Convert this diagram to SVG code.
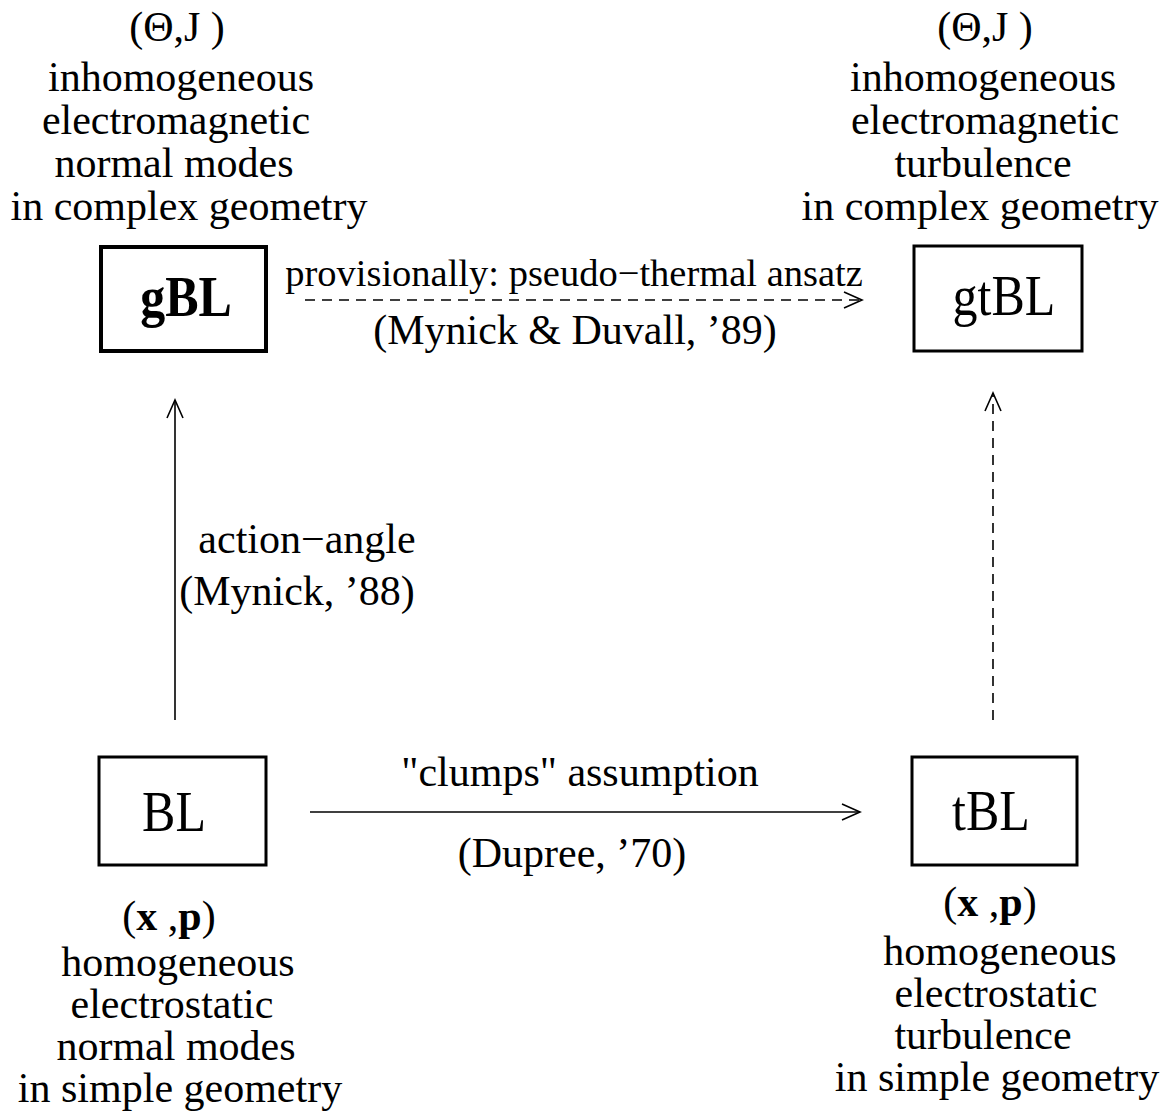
<svg xmlns="http://www.w3.org/2000/svg" width="1168" height="1112" viewBox="0 0 1168 1112">
<defs>
<style>
text{font-family:"Liberation Serif","Times New Roman",serif;fill:#000}
.lbl{font-size:42px;text-anchor:middle}
.mid{font-size:42px;text-anchor:middle}
.node{font-size:50px;text-anchor:middle}
.box{fill:#fff;stroke:#000;stroke-width:3}
.edge{fill:none;stroke:#000;stroke-width:1.6}
.dash{stroke-dasharray:10 7}
</style>
<marker id="ah" markerWidth="22" markerHeight="20" refX="19" refY="9" orient="auto" markerUnits="userSpaceOnUse">
<path d="M1,1 L19,9 L1,17" fill="none" stroke="#000" stroke-width="1.6"/>
</marker>
</defs>
<rect width="1168" height="1112" fill="#fff"/>

<g id="connectors">
<line class="edge dash" x1="305" y1="300" x2="862" y2="300" marker-end="url(#ah)"/>
<line class="edge" x1="175" y1="720" x2="175" y2="400" marker-end="url(#ah)"/>
<line class="edge dash" x1="993" y1="720" x2="993" y2="393" marker-end="url(#ah)"/>
<line class="edge" x1="310" y1="812" x2="860" y2="812" marker-end="url(#ah)"/>
<text class="mid" x="574" y="286" style="font-size:38.5px">provisionally: pseudo−thermal ansatz</text>
<text class="mid" x="575" y="344">(Mynick &amp; Duvall, ’89)</text>
<text class="mid" x="307" y="553">action−angle</text>
<text class="mid" x="297" y="605">(Mynick, ’88)</text>
<text class="mid" x="580" y="786">"clumps" assumption</text>
<text class="mid" x="572" y="867">(Dupree, ’70)</text>
</g>

<g id="gBL">
<rect class="box" x="101" y="247" width="165" height="104" style="stroke-width:4"/>
<text class="node" transform="translate(186 316) scale(1 1.12)" font-weight="bold">gBL</text>
<text class="lbl" x="177" y="41">(Θ,J )</text>
<text class="lbl" x="181" y="91">inhomogeneous</text>
<text class="lbl" x="176" y="134">electromagnetic</text>
<text class="lbl" x="174" y="177">normal modes</text>
<text class="lbl" x="189" y="220">in complex geometry</text>
</g>

<g id="gtBL">
<rect class="box" x="914" y="246" width="168" height="105"/>
<text class="node" transform="translate(1004 315) scale(1 1.12)">gtBL</text>
<text class="lbl" x="985" y="41">(Θ,J )</text>
<text class="lbl" x="983" y="91">inhomogeneous</text>
<text class="lbl" x="985" y="134">electromagnetic</text>
<text class="lbl" x="983" y="177">turbulence</text>
<text class="lbl" x="980" y="220">in complex geometry</text>
</g>

<g id="BL">
<rect class="box" x="99" y="757" width="167" height="108"/>
<text class="node" transform="translate(174 831) scale(1 1.12)">BL</text>
<text class="lbl" x="169" y="930">(<tspan font-weight="bold">x</tspan> ,<tspan font-weight="bold">p</tspan>)</text>
<text class="lbl" x="178" y="976">homogeneous</text>
<text class="lbl" x="172" y="1018">electrostatic</text>
<text class="lbl" x="176" y="1060">normal modes</text>
<text class="lbl" x="180" y="1102">in simple geometry</text>
</g>

<g id="tBL">
<rect class="box" x="912" y="757" width="165" height="108"/>
<text class="node" transform="translate(991 830) scale(1 1.12)">tBL</text>
<text class="lbl" x="990" y="916">(<tspan font-weight="bold">x</tspan> ,<tspan font-weight="bold">p</tspan>)</text>
<text class="lbl" x="1000" y="965">homogeneous</text>
<text class="lbl" x="996" y="1007">electrostatic</text>
<text class="lbl" x="983" y="1049">turbulence</text>
<text class="lbl" x="997" y="1091">in simple geometry</text>
</g>
</svg>
